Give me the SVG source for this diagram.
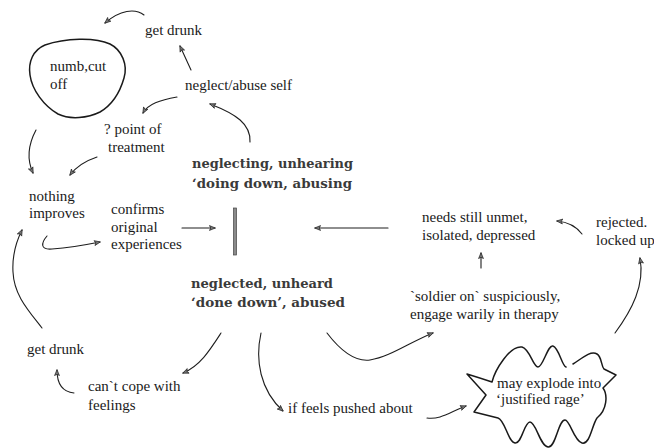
<svg xmlns="http://www.w3.org/2000/svg" width="654" height="448" viewBox="0 0 654 448">
<defs>
<style>
.t{font-family:'Liberation Serif','DejaVu Serif',serif;font-size:15px;fill:#1a1a1a}
.b{font-family:'DejaVu Serif','Liberation Serif',serif;font-weight:bold;font-size:13.5px;fill:#3a3a3a}
.c{fill:none;stroke:#1e1e1e;stroke-width:1.1;stroke-linecap:round;marker-end:url(#ah)}
.s{fill:none;stroke:#1a1a1a;stroke-width:1.5;stroke-linejoin:round;stroke-linecap:round}
</style>
<marker id="ah" viewBox="0 0 10 10" refX="9" refY="5" markerWidth="7" markerHeight="7" markerUnits="userSpaceOnUse" orient="auto">
<path d="M1,1.5 L9.5,5 L1,8.5 L3,5 Z" fill="#777" stroke="#222" stroke-width="1"/>
</marker>
</defs>
<rect width="654" height="448" fill="#fff"/>

<g id="numb">
<path class="s" d="M45,45 C65,38 95,37 110,44 C122,50 128,65 124,78 C120,92 112,105 100,112 C88,118 70,120 58,114 C44,106 32,90 30,75 C28,62 33,50 45,45 Z"/>
<text class="t" x="50" y="71">numb,cut</text>
<text class="t" x="50" y="89">off</text>
</g>
<g id="get-drunk-top"><text class="t" x="145" y="35">get drunk</text></g>
<g id="neglect-self"><text class="t" x="185" y="90">neglect/abuse self</text></g>
<g id="point-treatment">
<text class="t" x="104" y="134">? point of</text>
<text class="t" x="108" y="152">treatment</text>
</g>
<g id="neglecting">
<text class="b" x="192" y="168" textLength="161" lengthAdjust="spacingAndGlyphs">neglecting, unhearing</text>
<text class="b" x="192" y="188" textLength="160" lengthAdjust="spacingAndGlyphs">‘doing down, abusing</text>
</g>
<g id="bar"><rect x="233.5" y="208" width="3" height="47" fill="#8a8a8a" stroke="#444" stroke-width="0.7"/></g>
<g id="neglected">
<text class="b" x="191" y="288" textLength="142" lengthAdjust="spacingAndGlyphs">neglected, unheard</text>
<text class="b" x="191" y="307" textLength="154" lengthAdjust="spacingAndGlyphs">‘done down’, abused</text>
</g>
<g id="nothing-improves">
<text class="t" x="29" y="201">nothing</text>
<text class="t" x="29" y="218">improves</text>
</g>
<g id="confirms">
<text class="t" x="111" y="214">confirms</text>
<text class="t" x="111" y="232">original</text>
<text class="t" x="111" y="249">experiences</text>
</g>
<g id="needs">
<text class="t" x="422" y="222">needs still unmet,</text>
<text class="t" x="422" y="240">isolated, depressed</text>
</g>
<g id="rejected">
<text class="t" x="596" y="227">rejected.</text>
<text class="t" x="596" y="245">locked up</text>
</g>
<g id="soldier">
<text class="t" x="410" y="301">`soldier on` suspiciously,</text>
<text class="t" x="410" y="319">engage warily in therapy</text>
</g>
<g id="get-drunk-bottom"><text class="t" x="27" y="354">get drunk</text></g>
<g id="cant-cope">
<text class="t" x="88" y="391">can`t cope with</text>
<text class="t" x="88" y="410">feelings</text>
</g>
<g id="pushed"><text class="t" x="288" y="413">if feels pushed about</text></g>
<g id="rage">
<path class="s" d="M573,364 C580,360 590,350 597,354 C602,357 601,366 604,369 L616,375 L603,388 C608,395 607,410 597,418 C592,425 590,445 582,443 C574,441 570,420 565,420 C558,420 556,448 548,447 C540,446 536,422 530,422 C524,422 522,444 515,443 C508,442 505,420 498,418 L474,412 L486,395 L467,374 Q480,378 492,382 C495,370 510,345 522,347 C530,349 533,367 538,367 C543,367 548,344 553,346 C559,348 562,366 566,367"/>
<text class="t" x="497" y="388">may explode into</text>
<text class="t" x="496" y="404">‘justified rage’</text>
</g>

<g id="connectors">
<path class="c" d="M144,15 C135,8 120,10 105,23"/>
<path class="c" d="M191,70 L180,46"/>
<path class="c" d="M177,97 C160,100 148,104 143,113"/>
<path class="c" d="M250,142 C251,124 236,114 210,104"/>
<path class="c" d="M97,157 C85,161 76,167 70,175"/>
<path class="c" d="M36,130 C28,145 27,160 33,173"/>
<path class="c" d="M47,236 C41,243 40,250 52,249 C65,248 85,245 100,242"/>
<path class="c" d="M182,228 L215,228"/>
<path class="c" d="M388,228 L315,228"/>
<path class="c" d="M582,234 C576,226 568,222 557,221"/>
<path class="c" d="M481,268 L481,253"/>
<path class="c" d="M615,333 C632,310 645,285 640,258"/>
<path class="c" d="M327,333 C340,350 355,362 370,360 C390,357 410,342 433,333"/>
<path class="c" d="M427,418 C440,420 450,412 466,406"/>
<path class="c" d="M261,333 C255,360 260,390 283,411"/>
<path class="c" d="M221,333 C210,350 200,366 183,373"/>
<path class="c" d="M74,393 C64,392 57,385 57,370"/>
<path class="c" d="M42,328 C28,310 14,295 13,272 C12,255 17,240 22,230"/>
</g>
</svg>
